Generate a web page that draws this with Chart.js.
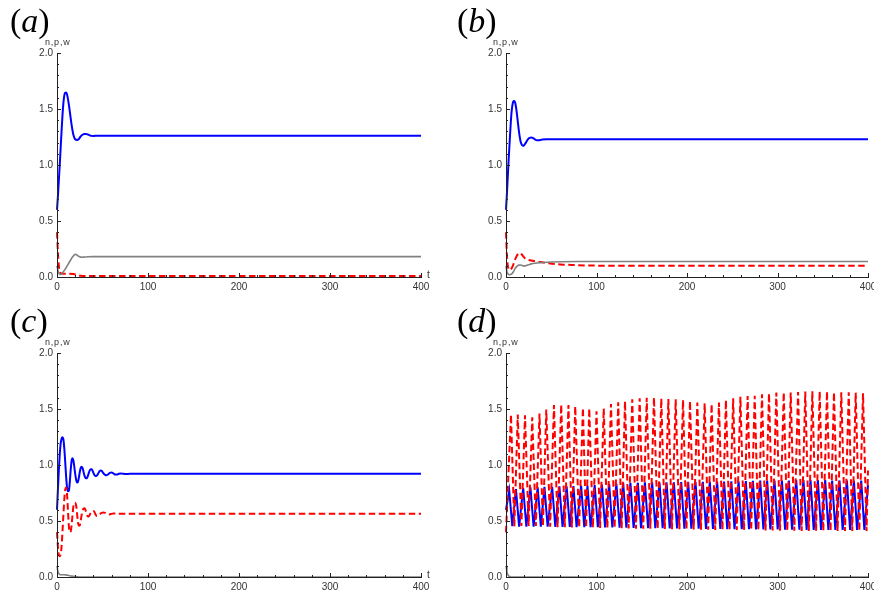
<!DOCTYPE html>
<html>
<head>
<meta charset="utf-8">
<script src="https://cdn.jsdelivr.net/npm/chart.js@4.4.1/dist/chart.umd.min.js"></script>
<style>
  html, body { margin: 0; padding: 0; background: #fff; }
  body { width: 874px; height: 591px; overflow: hidden; position: relative; }
  canvas { position: absolute; }
  .tag { position: absolute; font-family: "Liberation Serif", "Times New Roman", serif; font-size: 34px; line-height: 34px; color: #000; white-space: nowrap; }
  .ylab { position: absolute; font-family: "Liberation Sans", Arial, sans-serif; font-size: 9px; line-height: 10px; letter-spacing: 0.8px; color: #333; white-space: nowrap; }
  .xlab { position: absolute; font-family: "Liberation Sans", Arial, sans-serif; font-size: 10px; line-height: 12px; color: #333; }
</style>
</head>
<body>
<canvas id="ca" width="440" height="295" style="left:0;top:0"></canvas>
<canvas id="cb" width="440" height="295" style="left:449px;top:0"></canvas>
<canvas id="cc" width="440" height="291" style="left:0;top:300px"></canvas>
<canvas id="cd" width="440" height="291" style="left:449px;top:300px"></canvas>

<div class="tag" style="left:10px;top:4px">(<i>a</i>)</div>
<div class="tag" style="left:457px;top:4px">(<i>b</i>)</div>
<div class="tag" style="left:10px;top:304px">(<i>c</i>)</div>
<div class="tag" style="left:457px;top:304px">(<i>d</i>)</div>
<div class="ylab" style="left:45px;top:37px">n,p,w</div>
<div class="ylab" style="left:493px;top:37px">n,p,w</div>
<div class="ylab" style="left:45px;top:337px">n,p,w</div>
<div class="ylab" style="left:493px;top:337px">n,p,w</div>
<div class="xlab" style="left:427px;top:269px">t</div>
<div class="xlab" style="left:427px;top:569px">t</div>

<script>
// (a)
const aBlue = [[0,0.6],[1,0.72],[2,0.86],[3,1.0],[4,1.15],[5,1.3],[6,1.44],[7,1.55],[8,1.62],[9,1.645],[10,1.648],[11,1.632],[12,1.59],[13,1.54],[14,1.48],[15,1.42],[16,1.36],[17,1.31],[18,1.27],[19,1.245],[20,1.23],[22,1.223],[24,1.232],[26,1.255],[28,1.27],[30,1.277],[32,1.277],[34,1.272],[36,1.265],[38,1.26],[40,1.259],[44,1.262],[400,1.262]];
const aRed = [[0,0.4],[1,0.22],[2,0.1],[3,0.05],[4,0.035],[6,0.03],[12,0.03],[18,0.027],[22,0.018],[26,0.011],[32,0.008],[400,0.008]];
const aGray = [[0,0.1],[1,0.06],[2,0.035],[3,0.025],[4,0.022],[5,0.025],[6,0.033],[7,0.047],[9,0.07],[11,0.097],[13,0.125],[15,0.152],[17,0.178],[19,0.198],[20,0.202],[21,0.2],[23,0.19],[25,0.18],[27,0.176],[30,0.178],[34,0.181],[40,0.182],[400,0.182]];

// (b)
const bBlue = [[0,0.6],[1,0.74],[2,0.9],[3,1.06],[4,1.2],[5,1.34],[6,1.46],[7,1.53],[8,1.565],[9,1.572],[10,1.56],[11,1.52],[12,1.46],[13,1.39],[14,1.32],[15,1.26],[16,1.215],[17,1.188],[18,1.175],[19,1.172],[20,1.177],[22,1.2],[24,1.227],[26,1.242],[28,1.245],[30,1.24],[32,1.228],[34,1.22],[36,1.221],[40,1.227],[45,1.229],[400,1.229]];
const bRed = [[0,0.4],[1,0.2],[2,0.1],[3,0.07],[4,0.063],[6,0.075],[8,0.11],[10,0.155],[12,0.19],[14,0.21],[15.5,0.213],[17,0.205],[19,0.185],[21,0.168],[24,0.155],[28,0.148],[32,0.14],[38,0.133],[45,0.125],[55,0.115],[65,0.11],[75,0.107],[90,0.103],[110,0.101],[400,0.1]];
const bGray = [[0,0.1],[1,0.05],[2,0.03],[3,0.022],[4,0.02],[6,0.025],[8,0.045],[10,0.075],[12,0.095],[14,0.106],[16,0.107],[18,0.102],[20,0.099],[22,0.101],[25,0.109],[28,0.117],[32,0.123],[38,0.128],[45,0.132],[60,0.136],[80,0.138],[400,0.139]];

// (c)
const cBlue = [[0,0.6],[1,0.78],[2,0.95],[3,1.09],[4,1.19],[5,1.235],[6,1.248],[7,1.23],[8,1.15],[9,1.03],[10,0.9],[11,0.8],[12,0.765],[13,0.77],[14,0.84],[15,0.95],[16,1.035],[17,1.06],[18,1.04],[19,0.985],[20,0.92],[21,0.87],[22,0.843],[23,0.85],[24,0.885],[25,0.935],[26,0.972],[27,0.985],[28,0.975],[29,0.945],[30,0.91],[31,0.888],[32,0.881],[33,0.885],[34,0.905],[35,0.93],[36,0.952],[37,0.963],[38,0.962],[39,0.95],[40,0.93],[41,0.912],[42,0.903],[43,0.902],[44,0.908],[45,0.92],[46,0.935],[47,0.946],[48,0.952],[49,0.948],[50,0.938],[52,0.917],[54,0.908],[56,0.915],[58,0.93],[60,0.932],[62,0.925],[64,0.915],[66,0.915],[68,0.922],[70,0.925],[73,0.921],[76,0.919],[80,0.921],[400,0.921]];
const cRed = [[0,0.4],[1,0.27],[2,0.2],[3,0.185],[4,0.2],[5,0.27],[6,0.4],[7,0.55],[8,0.69],[9,0.78],[10,0.8],[11,0.74],[12,0.6],[13,0.46],[14,0.4],[15,0.405],[16,0.46],[17,0.55],[18,0.63],[19,0.66],[20,0.664],[21,0.64],[22,0.57],[23,0.49],[24,0.458],[25,0.46],[26,0.5],[27,0.55],[28,0.59],[29,0.608],[30,0.613],[31,0.605],[32,0.58],[33,0.553],[34,0.54],[35,0.541],[36,0.555],[37,0.572],[38,0.585],[40,0.589],[41,0.583],[42,0.565],[43,0.55],[44,0.545],[45,0.546],[47,0.56],[49,0.573],[51,0.577],[53,0.572],[55,0.562],[57,0.558],[59,0.562],[62,0.567],[66,0.565],[400,0.565]];
const cGray = [[0,0.1],[1,0.05],[2,0.03],[3,0.022],[5,0.02],[8,0.02],[12,0.015],[16,0.008],[20,0.003],[25,0],[400,0]];

// (d) blue: start, peaks, troughs, end
const dBlueEnds = [[0,0.6],[400,0.82]];
const dBluePeakT = [3.5,11,19,27,35,42.5,51,59,67,74.5,83,90,98,106,114,122,129.5,137.5,145.7,153.5,161.5,169.6,177.4,185.5,193.6,201.3,209.4,217.5,225.2,233.3,241,249,257,265,272.8,280.9,288.6,296.7,304.9,312.6,320.7,328.7,336.5,344.6,352.7,360.4,368.5,376.7,384.4,392.5];
const dBluePeakV = [0.775,0.785,0.795,0.8,0.8,0.805,0.805,0.81,0.81,0.812,0.815,0.815,0.82,0.825,0.83,0.835,0.84,0.84,0.842,0.845,0.845,0.845,0.845,0.845,0.848,0.85,0.85,0.85,0.85,0.852,0.852,0.855,0.855,0.857,0.858,0.86,0.86,0.862,0.862,0.862,0.865,0.865,0.865,0.865,0.865,0.862,0.862,0.862,0.86,0.86];
const dBlueTroughT = [7,14.5,22.5,30.5,38.5,46,54.5,62.5,70.5,78,86.5,93.5,101.5,109.5,117.5,125.5,133,141,149.2,157,165,173.1,180.9,189,197.1,204.8,212.9,221,228.7,236.8,244.5,252.5,260.5,268.5,276.3,284.4,292.1,300.2,308.4,316.1,324.2,332.2,340,348.1,356.2,363.9,372,380.2,387.9,396];
const dBlueTroughV = [0.455,0.45,0.45,0.45,0.45,0.45,0.448,0.448,0.447,0.446,0.445,0.445,0.444,0.443,0.442,0.44,0.44,0.438,0.437,0.436,0.435,0.435,0.434,0.433,0.432,0.432,0.431,0.43,0.43,0.43,0.428,0.428,0.427,0.426,0.425,0.425,0.424,0.424,0.423,0.422,0.422,0.421,0.421,0.42,0.42,0.42,0.42,0.42,0.42,0.42];

// (d) red
const dRedEnds = [[0,0.4],[400,0.95]];
const dRedPeakT = [5.5,13,21,29,37,44.5,53,61,69,76.5,85,92,100,108,116,124,131.5,139.5,147.7,155.5,163.5,171.6,179.4,187.5,195.6,203.3,211.4,219.5,227.2,235.3,243,251,259,267,274.8,282.9,290.6,298.7,306.9,314.6,322.7,330.7,338.5,346.6,354.7,362.4,370.5,378.7,386.4,394.5];
const dRedPeakV = [1.45,1.45,1.445,1.425,1.46,1.495,1.535,1.54,1.535,1.525,1.51,1.505,1.48,1.505,1.545,1.56,1.57,1.586,1.595,1.601,1.604,1.595,1.589,1.586,1.58,1.571,1.557,1.551,1.545,1.557,1.58,1.595,1.61,1.616,1.619,1.631,1.64,1.646,1.649,1.648,1.652,1.655,1.658,1.658,1.658,1.649,1.649,1.649,1.646,1.64];
const dRedTroughT = [9.2,17,25,33,40.8,48.8,57,65,72.8,80.8,88.5,96,104,112,120,127.8,135.5,143.6,151.6,159.5,167.6,175.5,183.4,191.6,199.4,207.4,215.4,223.4,231.2,239.2,247,255,263,270.9,278.8,286.8,294.6,302.8,310.8,318.6,326.7,334.6,342.6,350.6,358.6,366.4,374.6,382.6,390.4,398.4];
const dRedTroughV = [0.45,0.455,0.455,0.455,0.45,0.45,0.445,0.445,0.443,0.442,0.44,0.44,0.438,0.437,0.436,0.435,0.434,0.432,0.431,0.43,0.429,0.428,0.427,0.426,0.425,0.424,0.423,0.422,0.421,0.42,0.42,0.419,0.418,0.417,0.416,0.415,0.415,0.414,0.413,0.413,0.412,0.412,0.411,0.41,0.41,0.41,0.41,0.41,0.41,0.41];

// (d) gray
const dGray = [[0,0.1],[1,0.045],[2,0.02],[3,0.008],[5,0.002],[8,0],[400,0]];

const yTicks = [0, 0.5, 1.0, 1.5, 2.0];
const xTicks = [0, 100, 200, 300, 400];

const BLUE = '#0000ff', RED = '#ff0000', GRAY = '#808080';
const tickFont = { family: '"Liberation Sans", Arial, sans-serif', size: 10 };

function pts(pairs) {
    return pairs.map(p => ({ x: p[0], y: p[1] }));
}

function merge(ends, t1, v1, t2, v2) {
    const all = ends.map(p => ({ x: p[0], y: p[1] }))
        .concat(t1.map((t, i) => ({ x: t, y: v1[i] })))
        .concat(t2.map((t, i) => ({ x: t, y: v2[i] })));
    return all.sort((a, b) => a.x - b.x);
}

// Mathematica style ticks pointing into the plot
const inwardTicks = {
    id: 'inwardTicks',
    afterDraw(chart) {
        const { ctx, chartArea, scales } = chart;
        ctx.save();
        ctx.strokeStyle = '#222';
        ctx.lineWidth = 1;
        ctx.beginPath();
        for (let i = 0; i <= 20; i++) {
            const py = Math.round(scales.y.getPixelForValue(i / 10)) + 0.5;
            const len = i % 5 === 0 ? 4 : 2;
            ctx.moveTo(chartArea.left, py);
            ctx.lineTo(chartArea.left + len, py);
        }
        for (let i = 0; i <= 20; i++) {
            const px = Math.round(scales.x.getPixelForValue(i * 20)) + 0.5;
            const len = i % 5 === 0 ? 4 : 2;
            ctx.moveTo(px, chartArea.bottom);
            ctx.lineTo(px, chartArea.bottom - len);
        }
        ctx.stroke();
        ctx.restore();
    }
};

function makePanel(id, blue, red, gray, rightEdge, smooth) {
    const common = {
        pointRadius: 0,
        fill: false,
        clip: 3,
        tension: 0,
        cubicInterpolationMode: smooth ? 'monotone' : 'default'
    };
    const canvas = document.getElementById(id);
    return new Chart(canvas, {
        type: 'line',
        data: {
            datasets: [
                // Chart.js paints index 0 last, so gray/red/blue order mirrors Mathematica's stacking
                { ...common, data: gray, borderColor: GRAY, borderWidth: 1.6 },
                { ...common, data: red, borderColor: RED, borderWidth: 2, borderDash: [6.5, 3.5] },
                { ...common, data: blue, borderColor: BLUE, borderWidth: 2 }
            ]
        },
        options: {
            responsive: false,
            animation: false,
            events: [],
            layout: { padding: { top: 53, left: 27, right: 440 - rightEdge, bottom: canvas.height - 277 - 18 } },
            plugins: { legend: { display: false }, tooltip: { enabled: false } },
            scales: {
                x: {
                    type: 'linear',
                    min: 0,
                    max: 400,
                    grid: { display: false, drawTicks: false },
                    border: { display: true, color: '#222', width: 1, z: 1 },
                    afterBuildTicks: s => { s.ticks = xTicks.map(v => ({ value: v })); },
                    ticks: { padding: 4, maxRotation: 0, autoSkip: false, font: tickFont, color: '#333' },
                    afterFit: s => { s.height = 18; }
                },
                y: {
                    min: 0,
                    max: 2,
                    grid: { display: false, drawTicks: false },
                    border: { display: true, color: '#222', width: 1, z: 1 },
                    afterBuildTicks: s => { s.ticks = yTicks.map(v => ({ value: v })); },
                    ticks: { padding: 4, font: tickFont, color: '#333', callback: v => v.toFixed(1) },
                    afterFit: s => { s.width = 30; }
                }
            }
        },
        plugins: [inwardTicks]
    });
}

makePanel('ca', pts(aBlue), pts(aRed), pts(aGray), 421, true);
makePanel('cb', pts(bBlue), pts(bRed), pts(bGray), 419, true);
makePanel('cc', pts(cBlue), pts(cRed), pts(cGray), 421, true);
makePanel('cd',
    merge(dBlueEnds, dBluePeakT, dBluePeakV, dBlueTroughT, dBlueTroughV),
    merge(dRedEnds, dRedPeakT, dRedPeakV, dRedTroughT, dRedTroughV),
    pts(dGray), 419, false);
</script>
</body>
</html>
